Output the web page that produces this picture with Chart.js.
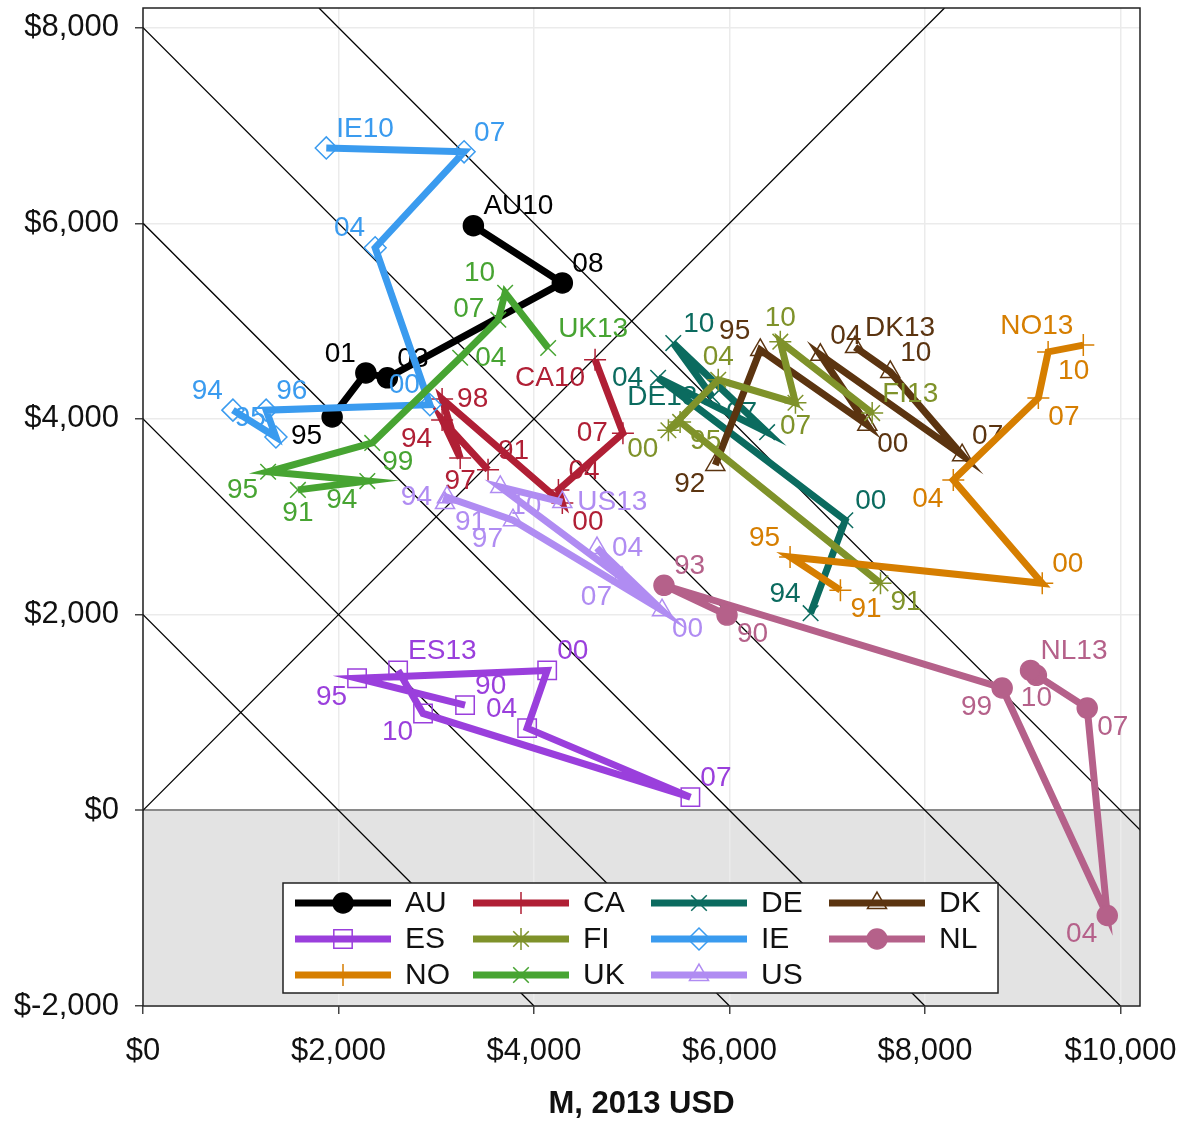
<!DOCTYPE html>
<html>
<head>
<meta charset="utf-8">
<script src="https://cdn.jsdelivr.net/npm/chart.js@4.4.1/dist/chart.umd.min.js"></script>
<style>
  body { margin: 0; background: #fff; }
  #wrap { width: 1187px; height: 1121px; }
</style>
</head>
<body>
<div id="wrap"><canvas id="myChart" width="1187" height="1121"></canvas></div>
<script>
// axis ticks
const xTicks = [0, 2000, 4000, 6000, 8000, 10000];
const yTicks = [-2000, 0, 2000, 4000, 6000, 8000];

// guide lines x + y = const (plus the y = x diagonal)
const sumLines = [2000, 4000, 6000, 8000, 10000];

// countries: year labels, M (x), second measure (y), label clock position
const auYears = ['95', '01', '03', '08', 'AU10'];
const auX = [1935, 2280, 2500, 4290, 3380];
const auY = [4020, 4470, 4420, 5390, 5975];
const auPos = [7, 11, 1, 1, 1];

const caYears = ['91', '94', '97', '98', '00', '04', '07', 'CA10'];
const caX = [3530, 3060, 3245, 3060, 4290, 4250, 4910, 4625];
const caY = [3480, 3990, 3600, 4205, 3140, 3275, 3855, 4605];
const caPos = [1, 7, 6, 3, 5, 1, 9, 7];

const deYears = ['94', '00', '04', '07', '10', 'DE13'];
const deX = [6830, 7185, 5270, 6385, 5425, 5825];
const deY = [2015, 2965, 4420, 3865, 4775, 4225];
const dePos = [11, 1, 9, 11, 1, 9];

const dkYears = ['92', '95', '00', '04', '07', '10', 'DK13'];
const dkX = [5855, 6315, 7410, 6930, 8380, 7645, 7285];
const dkY = [3530, 4705, 3940, 4655, 3630, 4480, 4735];
const dkPos = [7, 11, 5, 1, 1, 1, 1];

const esYears = ['90', '95', '00', '04', '07', '10', 'ES13'];
const esX = [3295, 2190, 4135, 3930, 5600, 2865, 2610];
const esY = [1075, 1350, 1430, 840, 135, 990, 1430];
const esPos = [1, 7, 1, 11, 1, 7, 1];

const fiYears = ['91', '95', '00', '04', '07', '10', 'FI13'];
const fiX = [7545, 5495, 5375, 5885, 6675, 6520, 7460];
const fiY = [2320, 3970, 3885, 4400, 4165, 4790, 4060];
const fiPos = [5, 5, 7, 12, 6, 12, 1];

const ieYears = ['94', '95', '96', '00', '04', '07', 'IE10'];
const ieX = [920, 1360, 1260, 2935, 2375, 3285, 1875];
const ieY = [4090, 3815, 4090, 4145, 5750, 6730, 6770];
const iePos = [11, 11, 1, 11, 11, 1, 1];

const nlYears = ['90', '93', '99', '04', '07', '10', 'NL13'];
const nlX = [5975, 5330, 8790, 9865, 9660, 9140, 9080];
const nlY = [1995, 2300, 1250, -1075, 1045, 1380, 1430];
const nlPos = [5, 1, 7, 7, 5, 6, 1];

const noYears = ['91', '95', '00', '04', '07', '10', 'NO13'];
const noX = [7135, 6620, 9200, 8290, 9160, 9260, 9620];
const noY = [2250, 2590, 2320, 3375, 4215, 4685, 4755];
const noPos = [5, 11, 1, 7, 5, 5, 11];

const ukYears = ['91', '94', '95', '99', '04', '07', '10', 'UK13'];
const ukX = [1585, 2295, 1280, 2345, 3245, 3635, 3705, 4145];
const ukY = [3275, 3365, 3460, 3755, 4625, 5015, 5290, 4725];
const ukPos = [6, 7, 7, 5, 3, 10, 11, 1];

const usYears = ['91', '94', '97', '00', '04', '07', '10', 'US13'];
const usX = [3090, 3110, 3785, 5310, 4645, 4900, 3655, 4290];
const usY = [3140, 3200, 2965, 2045, 2680, 2375, 3305, 3150];
const usPos = [5, 9, 7, 5, 3, 7, 5, 3];

const FONT = "'Liberation Sans', Arial, Helvetica, sans-serif";
Chart.defaults.font.family = FONT;

function series(name, color, style, radius, hollow, years, xs, ys, pos, i) {
  return {
    label: name,
    data: xs.map((x, j) => ({ x: x, y: ys[j] })),
    yearLabels: years,
    labelPos: pos,
    legendIndex: i,
    showLine: true,
    borderColor: color,
    borderWidth: 7,
    borderJoinStyle: 'miter',
    tension: 0,
    pointStyle: style,
    pointRadius: radius,
    pointBorderWidth: 1.5,
    pointBorderColor: color,
    pointBackgroundColor: hollow ? 'rgba(0,0,0,0)' : color,
    order: 100 - i
  };
}

const countries = [
  series('AU', '#000000', 'circle', 10, false, auYears, auX, auY, auPos, 0),
  series('CA', '#b01f35', 'cross', 11, true, caYears, caX, caY, caPos, 1),
  series('DE', '#0b6b5f', 'crossRot', 11, true, deYears, deX, deY, dePos, 2),
  series('DK', '#5b3410', 'triangle', 11, true, dkYears, dkX, dkY, dkPos, 3),
  series('ES', '#9a3fdc', 'rect', 13, true, esYears, esX, esY, esPos, 4),
  series('FI', '#7f922a', 'star', 11, true, fiYears, fiX, fiY, fiPos, 5),
  series('IE', '#3a9bef', 'rectRot', 11, true, ieYears, ieX, ieY, iePos, 6),
  series('NL', '#b5618a', 'circle', 10, false, nlYears, nlX, nlY, nlPos, 7),
  series('NO', '#d67e00', 'cross', 11, true, noYears, noX, noY, noPos, 8),
  series('UK', '#47a432', 'crossRot', 11, true, ukYears, ukX, ukY, ukPos, 9),
  series('US', '#b08cf2', 'triangle', 11, true, usYears, usX, usY, usPos, 10)
];

// thin black guides drawn under everything
const guides = sumLines.map(c => ({
  data: [{ x: c - 8200, y: 8200 }, { x: c + 2000, y: -2000 }],
  showLine: true, borderColor: '#000', borderWidth: 1.3, pointRadius: 0, order: 1000
}));
guides.push({
  data: [{ x: 0, y: 0 }, { x: 8200, y: 8200 }],
  showLine: true, borderColor: '#000', borderWidth: 1.3, pointRadius: 0, order: 1000
});

// clock position -> offset of the year label
const clock = {
  1: [10, -19, 'left'], 2: [14, -10, 'left'], 3: [15, 0, 'left'],
  4: [14, 10, 'left'], 5: [10, 19, 'left'], 6: [0, 23, 'center'],
  7: [-10, 19, 'right'], 8: [-14, 10, 'right'], 9: [-15, 0, 'right'],
  10: [-14, -10, 'right'], 11: [-10, -19, 'right'], 12: [0, -23, 'center']
};

const shadeBelowZero = {
  id: 'shadeBelowZero',
  beforeDraw(chart) {
    const a = chart.chartArea, y0 = chart.scales.y.getPixelForValue(0);
    const ctx = chart.ctx;
    ctx.save();
    ctx.fillStyle = '#e3e3e3';
    ctx.fillRect(a.left, y0, a.right - a.left, a.bottom - y0);
    ctx.restore();
  }
};

const yearLabels = {
  id: 'yearLabels',
  afterDatasetDraw(chart, args) {
    const ds = chart.data.datasets[args.index];
    if (!ds.yearLabels) return;
    const ctx = chart.ctx;
    ctx.save();
    ctx.font = '28px ' + FONT;
    ctx.fillStyle = ds.borderColor;
    ctx.textBaseline = 'middle';
    args.meta.data.forEach((pt, j) => {
      const o = clock[ds.labelPos[j]];
      ctx.textAlign = o[2];
      ctx.fillText(ds.yearLabels[j], pt.x + o[0], pt.y + o[1]);
    });
    ctx.restore();
  }
};

const frameAndLegend = {
  id: 'frameAndLegend',
  afterDatasetsDraw(chart) {
    const ctx = chart.ctx, a = chart.chartArea;
    ctx.save();
    ctx.strokeStyle = '#222';
    ctx.lineWidth = 1.5;
    ctx.strokeRect(a.left, a.top, a.right - a.left, a.bottom - a.top);

    const left = a.left + 140, top = a.bottom - 123, w = 715, h = 110;
    ctx.fillStyle = '#fff';
    ctx.fillRect(left, top, w, h);
    ctx.strokeRect(left, top, w, h);

    chart.data.datasets.forEach(ds => {
      if (!ds.yearLabels) return;
      const col = ds.legendIndex % 4, row = Math.floor(ds.legendIndex / 4);
      const x0 = left + 12 + col * 178, y = top + 20 + row * 36;
      ctx.strokeStyle = ds.borderColor;
      ctx.lineWidth = 7;
      ctx.lineCap = 'butt';
      ctx.beginPath();
      ctx.moveTo(x0, y);
      ctx.lineTo(x0 + 96, y);
      ctx.stroke();
      ctx.lineWidth = ds.pointBorderWidth;
      ctx.fillStyle = ds.pointBackgroundColor;
      Chart.helpers.drawPoint(ctx, {
        pointStyle: ds.pointStyle, rotation: 0,
        radius: ds.pointRadius, borderWidth: ds.pointBorderWidth
      }, x0 + 48, y);
      ctx.fillStyle = '#111';
      ctx.font = '30px ' + FONT;
      ctx.textAlign = 'left';
      ctx.textBaseline = 'middle';
      ctx.fillText(ds.label, x0 + 110, y + 1);
    });
    ctx.restore();
  }
};

const money = v => '$' + Number(v).toLocaleString('en-US');

// no extra room for edge labels: the plot box is fixed by the layout padding
function noEdgePadding(s) {
  s.paddingTop = 0; s.paddingBottom = 0; s.paddingLeft = 0; s.paddingRight = 0;
}

new Chart(document.getElementById('myChart'), {
  type: 'scatter',
  data: { datasets: countries.concat(guides) },
  plugins: [shadeBelowZero, yearLabels, frameAndLegend],
  options: {
    responsive: false,
    animation: false,
    events: [],
    layout: { autoPadding: false, padding: { top: 8, right: 47, left: 0, bottom: 0 } },
    plugins: { legend: { display: false }, tooltip: { enabled: false } },
    scales: {
      x: {
        type: 'linear', min: 0, max: 10200,
        afterBuildTicks: s => { s.ticks = xTicks.map(v => ({ value: v })); },
        afterFit: s => { s.height = 115; noEdgePadding(s); },
        border: { display: false },
        grid: { color: '#ebebeb', lineWidth: 1.5, tickColor: '#444', tickLength: 8, tickWidth: 1.5 },
        ticks: { callback: money, color: '#111', font: { size: 31 }, padding: 19, maxRotation: 0, autoSkip: false },
        title: { display: true, text: 'M, 2013 USD', color: '#111', font: { size: 31, weight: 'bold', lineHeight: 1 }, padding: { top: 0, bottom: 1 } }
      },
      y: {
        type: 'linear', min: -2000, max: 8200,
        afterBuildTicks: s => { s.ticks = yTicks.map(v => ({ value: v })); },
        afterFit: s => { s.width = 143; noEdgePadding(s); },
        border: { display: false },
        grid: {
          color: c => (c.tick && c.tick.value === 0 ? '#8a8a8a' : '#ebebeb'),
          lineWidth: c => (c.tick && c.tick.value === 0 ? 2 : 1.5),
          tickColor: '#444', tickLength: 8, tickWidth: 1.5
        },
        ticks: { callback: money, color: '#111', font: { size: 31 }, padding: 16, autoSkip: false }
      }
    }
  }
});
</script>
</body>
</html>
